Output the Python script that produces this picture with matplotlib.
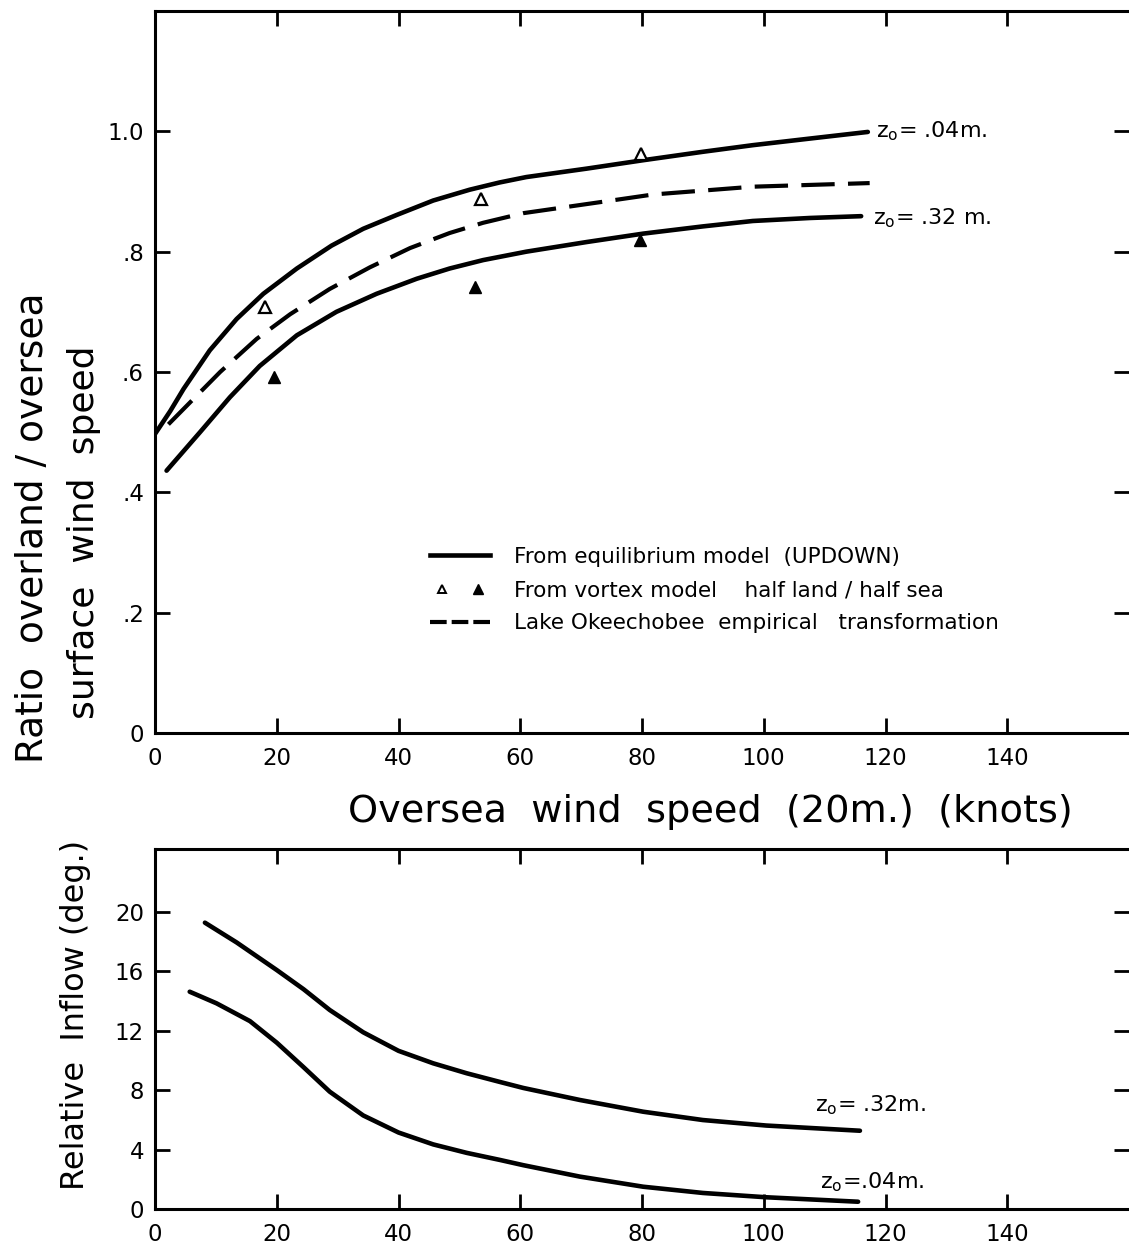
"""Overland/oversea wind speed ratio and relative inflow vs oversea wind speed."""

import matplotlib

matplotlib.use("Agg")
import matplotlib.pyplot as plt
from matplotlib.legend_handler import HandlerTuple
from matplotlib.lines import Line2D

plt.rcParams["font.family"] = ["DejaVu Sans"]

# --- upper panel: ratio overland / oversea surface wind speed ---
upd_04_speed = [0, 2.5, 4.7, 9.0, 13.4, 17.8, 23.3, 29.0, 34.2, 39.7, 45.7, 51.7,
                56.6, 61.0, 70.9, 80.2, 90.0, 98.2, 107.6, 117.1]
upd_04_ratio = [0.497, 0.535, 0.572, 0.636, 0.688, 0.730, 0.772, 0.810, 0.838, 0.861,
                0.885, 0.903, 0.915, 0.924, 0.938, 0.952, 0.966, 0.977, 0.988, 0.999]

upd_32_speed = [1.9, 7.4, 12.3, 17.2, 23.3, 29.8, 36.4, 43.0, 48.4, 53.9, 61.0,
                70.9, 80.2, 90.0, 98.2, 107.6, 116.0]
upd_32_ratio = [0.436, 0.50, 0.558, 0.610, 0.661, 0.70, 0.73, 0.755, 0.772, 0.786,
                0.800, 0.816, 0.83, 0.842, 0.851, 0.856, 0.859]

okee_speed = [2.2, 6.3, 10.7, 16.7, 22.2, 28.7, 35.3, 41.9, 48.4, 53.9, 60.5,
              73.6, 81.8, 98.2, 117.4]
okee_ratio = [0.513, 0.555, 0.60, 0.655, 0.696, 0.738, 0.774, 0.806, 0.831, 0.848,
              0.864, 0.883, 0.895, 0.908, 0.914]

vortex_open_speed = [18, 53.5, 79.8]
vortex_open_ratio = [0.708, 0.888, 0.962]
vortex_filled_speed = [19.5, 52.5, 79.7]
vortex_filled_ratio = [0.592, 0.742, 0.82]

# --- lower panel: relative inflow (deg.) ---
inflow_32_speed = [8.2, 13.4, 20.0, 24.4, 28.7, 34.2, 40.0, 45.7, 51.2, 56.7, 60.5,
                   69.8, 80.2, 90.0, 100.4, 115.8]
inflow_32_deg = [19.28, 17.95, 16.09, 14.8, 13.4, 11.9, 10.65, 9.81, 9.14, 8.55,
                 8.15, 7.34, 6.55, 5.99, 5.62, 5.27]

inflow_04_speed = [5.7, 10.1, 15.6, 20.0, 24.4, 28.7, 34.2, 40.0, 45.7, 51.2, 56.7,
                   60.5, 69.8, 80.2, 90.0, 100.4, 115.5]
inflow_04_deg = [14.63, 13.85, 12.65, 11.2, 9.55, 7.9, 6.3, 5.15, 4.35, 3.78, 3.30,
                 2.95, 2.18, 1.50, 1.08, 0.79, 0.49]

x_ticks = [0, 20, 40, 60, 80, 100, 120, 140]
ratio_ticks = [0, 0.2, 0.4, 0.6, 0.8, 1.0]
ratio_tick_labels = ["0", ".2", ".4", ".6", ".8", "1.0"]
inflow_ticks = [0, 4, 8, 12, 16, 20]

W, H = 1129, 1247
fig = plt.figure(figsize=(W / 100, H / 100), dpi=100)

ax1 = fig.add_axes([155 / W, 1 - 733 / H, 1 - 155 / W, (733 - 11) / H])
ax2 = fig.add_axes([155 / W, 1 - 1209 / H, 1 - 155 / W, (1209 - 849) / H])

LW = 3.3
line_kw = dict(color="black", lw=LW, solid_capstyle="round", solid_joinstyle="round")
ax1.plot(upd_04_speed, upd_04_ratio, **line_kw)
ax1.plot(upd_32_speed, upd_32_ratio, **line_kw)
ax1.plot(okee_speed, okee_ratio, color="black", lw=3.0, dashes=(8, 3.2))
ax1.plot(vortex_open_speed, vortex_open_ratio, linestyle="none", marker="^",
         markersize=9, markerfacecolor="white", markeredgecolor="black",
         markeredgewidth=1.6)
ax1.plot(vortex_filled_speed, vortex_filled_ratio, linestyle="none", marker="^",
         markersize=9, color="black")

ax1.text(118.5, 1.0, r"z$_\mathrm{o}$= .04m.", fontsize=16, va="center", ha="left")
ax1.text(118.0, 0.855, r"z$_\mathrm{o}$= .32 m.", fontsize=16, va="center", ha="left")

solid_h = Line2D([], [], color="black", lw=LW)
open_h = Line2D([], [], linestyle="none", marker="^", markersize=6,
                markerfacecolor="white", markeredgecolor="black", markeredgewidth=1.4)
filled_h = Line2D([], [], linestyle="none", marker="^", markersize=7, color="black")
dash_h = Line2D([], [], color="black", lw=3.0, dashes=(4, 1.2))
ax1.legend([solid_h, (open_h, filled_h), dash_h],
           ["From equilibrium model  (UPDOWN)",
            "From vortex model    half land / half sea",
            "Lake Okeechobee  empirical   transformation"],
           handler_map={tuple: HandlerTuple(ndivide=None, pad=0.6)},
           loc="upper left", bbox_to_anchor=(0.282, 0.258), frameon=False,
           fontsize=15.5, handlelength=2.8, handletextpad=1.1, labelspacing=0.62,
           borderpad=0, borderaxespad=0)

ax1.set_xlim(0, 160)
ax1.set_ylim(0, 1.2)
ax1.set_xticks(x_ticks)
ax1.set_yticks(ratio_ticks)
ax1.set_yticklabels(ratio_tick_labels)

ax2.plot(inflow_32_speed, inflow_32_deg, **line_kw)
ax2.plot(inflow_04_speed, inflow_04_deg, **line_kw)
ax2.text(108.5, 7.0, r"z$_\mathrm{o}$= .32m.", fontsize=16, va="center", ha="left")
ax2.text(109.2, 1.8, r"z$_\mathrm{o}$=.04m.", fontsize=16, va="center", ha="left")

ax2.set_xlim(0, 160)
ax2.set_ylim(0, 24.24)
ax2.set_xticks(x_ticks)
ax2.set_yticks(inflow_ticks)

for ax in (ax1, ax2):
    ax.spines["right"].set_visible(False)
    for side in ("left", "top", "bottom"):
        ax.spines[side].set_linewidth(2.2)
    ax.tick_params(direction="in", top=True, right=True, length=11, width=2.0,
                   labelsize=16.5, pad=8)
    ax.tick_params(axis="x", pad=10)

fig.text(710 / W, 1 - 812 / H, "Oversea  wind  speed  (20m.)  (knots)", fontsize=27.5,
         ha="center", va="center")
fig.text(33 / W, 1 - 528 / H, "Ratio  overland / oversea", fontsize=27,
         rotation=90, ha="center", va="center")
fig.text(84 / W, 1 - 532 / H, "surface  wind  speed", fontsize=26,
         rotation=90, ha="center", va="center")
fig.text(76 / W, 1 - 1015 / H, "Relative  Inflow (deg.)", fontsize=23,
         rotation=90, ha="center", va="center")

fig.savefig("out.png", dpi=100)
